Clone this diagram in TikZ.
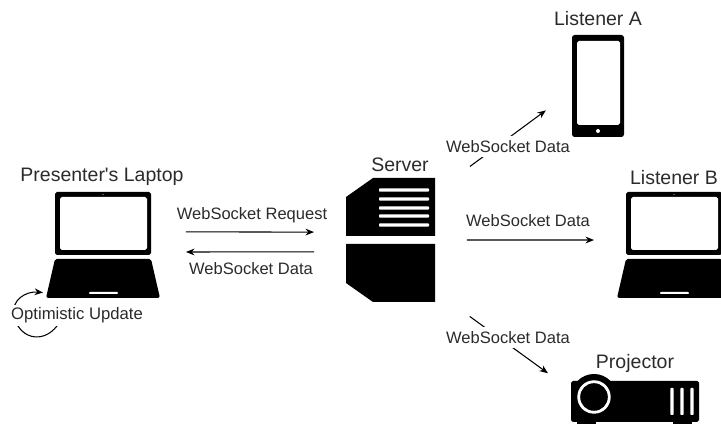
\documentclass[tikz,border=0pt]{standalone}
\usepackage{fontspec}
\setmainfont{Liberation Sans}
\usetikzlibrary{arrows.meta}
\definecolor{labelgray}{HTML}{2B2B2B}
\tikzset{
    flow/.style={-{Stealth[length=1.7mm,width=1.35mm]}, line width=0.6pt},
    flowlabel/.style={fill=white, inner xsep=0pt, inner ysep=0pt, minimum height=0.42cm, text=labelgray, font=\fontsize{9.4}{11}\selectfont},
    title/.style={inner sep=0pt, yshift=-0.03cm, text=labelgray, font=\fontsize{11.1}{13}\selectfont},
    iconbox/.style={inner sep=0pt, outer sep=0pt},
    laptopbox/.style={iconbox, minimum width=2.28cm, minimum height=2.12cm},
}
% laptop icon, #1 is the shift from the presenter's laptop
\newcommand{\laptopicon}[1]{
    \begin{scope}[xshift=#1*0.02cm]
        \fill[rounded corners=1pt] (55, 192) rectangle (151, 255);
        \fill[white, rounded corners=1pt] (60, 197) rectangle (147, 250);
        \fill[white] (103, 194.5) circle (0.5);
        \fill[rounded corners=1pt] (55, 259) -- (151, 259) -- (160, 298) -- (46, 298) -- cycle;
        \fill[white, rounded corners=0.5pt] (89, 292) rectangle (118, 294);
    \end{scope}
}
\begin{document}
\begin{tikzpicture}[x=0.02cm, y=-0.02cm]
    \clip (0, 0) rectangle (721, 425);
    % icon places
    \node[laptopbox] (laptop) at (103, 245) {};
    \node[laptopbox] (listenerb) at (674, 245) {};
    \node[iconbox, minimum width=1.78cm, minimum height=2.48cm] (server) at (390.5, 240) {};
    \node[iconbox, minimum width=1.04cm, minimum height=2.04cm] (phone) at (598, 86) {};
    \node[iconbox, minimum width=2.56cm, minimum height=1cm] (projector) at (635, 399) {};
    % laptops
    \laptopicon{0}
    \laptopicon{571}
    % server
    \fill (373, 178) -- (435, 178) -- (435, 236) -- (346, 236) -- (346, 197) -- cycle;
    \fill (346, 244) -- (435, 244) -- (435, 302) -- (373, 302) -- (346, 283) -- cycle;
    \foreach \y in {190, 199, 208, 216, 225}
        \fill[white, rounded corners=0.5pt] (379, \y-1.7) rectangle (429, \y+1.7);
    % phone
    \fill[rounded corners=1.5pt] (572, 35) rectangle (624, 137);
    \fill[white, rounded corners=1pt] (577, 41) rectangle (620, 125);
    \fill[white] (598, 131) circle (2);
    % projector
    \fill[rounded corners=1pt] (571, 381) rectangle (699, 422);
    \fill (594, 397) circle (23);
    \fill (577, 420) rectangle (596, 424);
    \fill (673, 420) rectangle (692, 424);
    \fill[white] (594, 397) circle (16.7);
    \fill (594, 397) circle (13.8);
    \foreach \x in {672, 682, 692}
        \fill[white, rounded corners=0.5pt] (\x-1.7, 388) rectangle (\x+1.7, 415);
    % titles
    \node[title] (laptoptitle) at (102, 175) {Presenter\textquotesingle s Laptop};
    \node[title] (servertitle) at (400, 163) {Server};
    \node[title] (phonetitle) at (598, 17) {Listener A};
    \node[title] (listenerbtitle) at (674, 176) {Listener B};
    \node[title] (projectortitle) at (635, 362) {Projector};
    % request and reply
    \draw[flow, shorten <=0.52cm, shorten >=0.64cm] (laptop.13) -- (server.170)
        node[flowlabel] (requestlabel) at (252, 215.5) {WebSocket Request};
    \draw[flow, shorten <=0.64cm, shorten >=0.52cm] (server.195) -- (laptop.-7)
        node[flowlabel] (replylabel) at (251, 269) {WebSocket Data};
    % fan out
    \draw[flow, shorten <=0.87cm, shorten >=0.65cm] (server.47) -- (phone.191)
        node[flowlabel] (datalabela) at (508, 147) {WebSocket Data};
    \draw[flow, shorten <=0.64cm, shorten >=0.46cm] (server.0) -- (listenerb.175)
        node[flowlabel] (datalabelb) at (528, 221) {WebSocket Data};
    \draw[flow, shorten <=0.86cm, shorten >=0.57cm] (server.-49) -- (projector.172)
        node[flowlabel] (datalabelc) at (508, 338) {WebSocket Data};
    % optimistic update
    \coordinate (loopstart) at (57, 326);
    \draw[flow, shorten >=0.06cm] (loopstart) .. controls (42, 345) and (18, 338) .. (14, 315)
        .. controls (11, 300) and (26, 291) .. (laptop.220)
        node[flowlabel, font=\fontsize{9.5}{11}\selectfont] (updatelabel) at (77, 315.5) {Optimistic Update};
\end{tikzpicture}
\end{document}
